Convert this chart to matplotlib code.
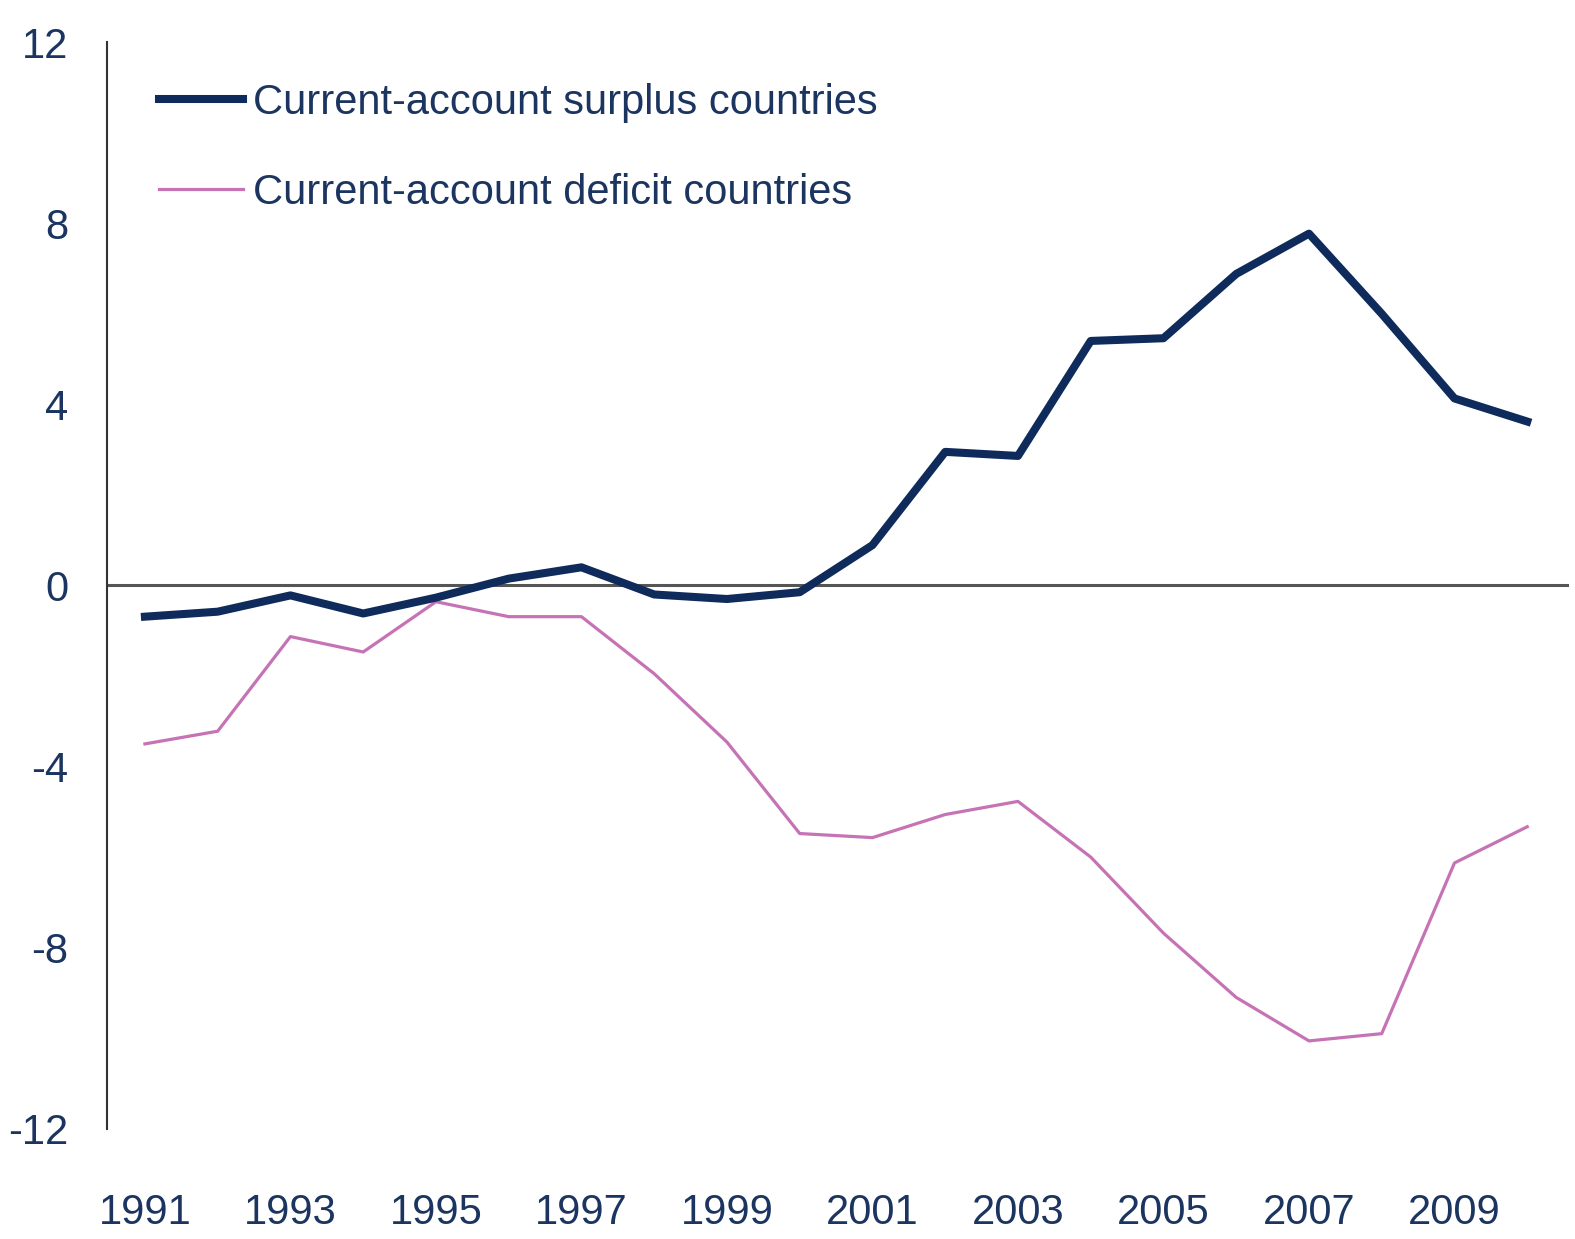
import matplotlib
matplotlib.use("Agg")
import matplotlib.pyplot as plt
from matplotlib import font_manager as fm

years = list(range(1991, 2011))
surplus = [-0.69, -0.58, -0.22, -0.62, -0.27, 0.15, 0.40, -0.20, -0.30, -0.15,
           0.89, 2.95, 2.86, 5.40, 5.46, 6.88, 7.77, 6.00, 4.13, 3.62]
deficit = [-3.50, -3.22, -1.13, -1.47, -0.36, -0.69, -0.69, -1.95, -3.46, -5.48,
           -5.57, -5.06, -4.77, -6.00, -7.68, -9.10, -10.06, -9.90, -6.13, -5.33]
xtick_years = list(range(1991, 2011, 2))
yticks = [-12, -8, -4, 0, 4, 8, 12]
labels = ["Current-account surplus countries", "Current-account deficit countries"]

names = {f.name for f in fm.fontManager.ttflist}
fam = ["Liberation Sans Narrow", "DejaVu Sans"] if "Liberation Sans Narrow" in names else ["Liberation Sans", "DejaVu Sans"]
plt.rcParams['font.family'] = fam

navy = "#0f2b5b"
pink = "#c673b6"
txt = "#1b3560"

fig = plt.figure(figsize=(15.75, 12.39), dpi=100)
ax = fig.add_axes([0.068, 0.089, 0.928, 0.877])

ax.axhline(0, color="#555555", lw=2.2, zorder=1)
ax.plot(years, surplus, color=navy, lw=5.8, label=labels[0], zorder=3)
ax.plot(years, deficit, color=pink, lw=2.3, label=labels[1], zorder=2)

ax.set_xlim(1990.48, 2010.57)
ax.set_ylim(-12, 12)
ax.set_xticks(xtick_years)
ax.set_yticks(yticks)
ax.set_xticklabels([str(y) for y in xtick_years])
ax.set_yticklabels([str(v) for v in yticks])

for s in ["top", "right", "bottom"]:
    ax.spines[s].set_visible(False)
ax.spines["left"].set_color("#333333")
ax.spines["left"].set_linewidth(1.5)

ax.tick_params(axis="both", length=0, labelsize=30, colors=txt)
ax.tick_params(axis="x", pad=46)
ax.tick_params(axis="y", pad=28)

leg = ax.legend(loc="upper left", bbox_to_anchor=(0.01, 0.997), frameon=False,
                fontsize=30, handlelength=2.0, handletextpad=0.25, labelspacing=1.2)
for t in leg.get_texts():
    t.set_color(txt)

fig.savefig("out.png", dpi=100, facecolor="white")
